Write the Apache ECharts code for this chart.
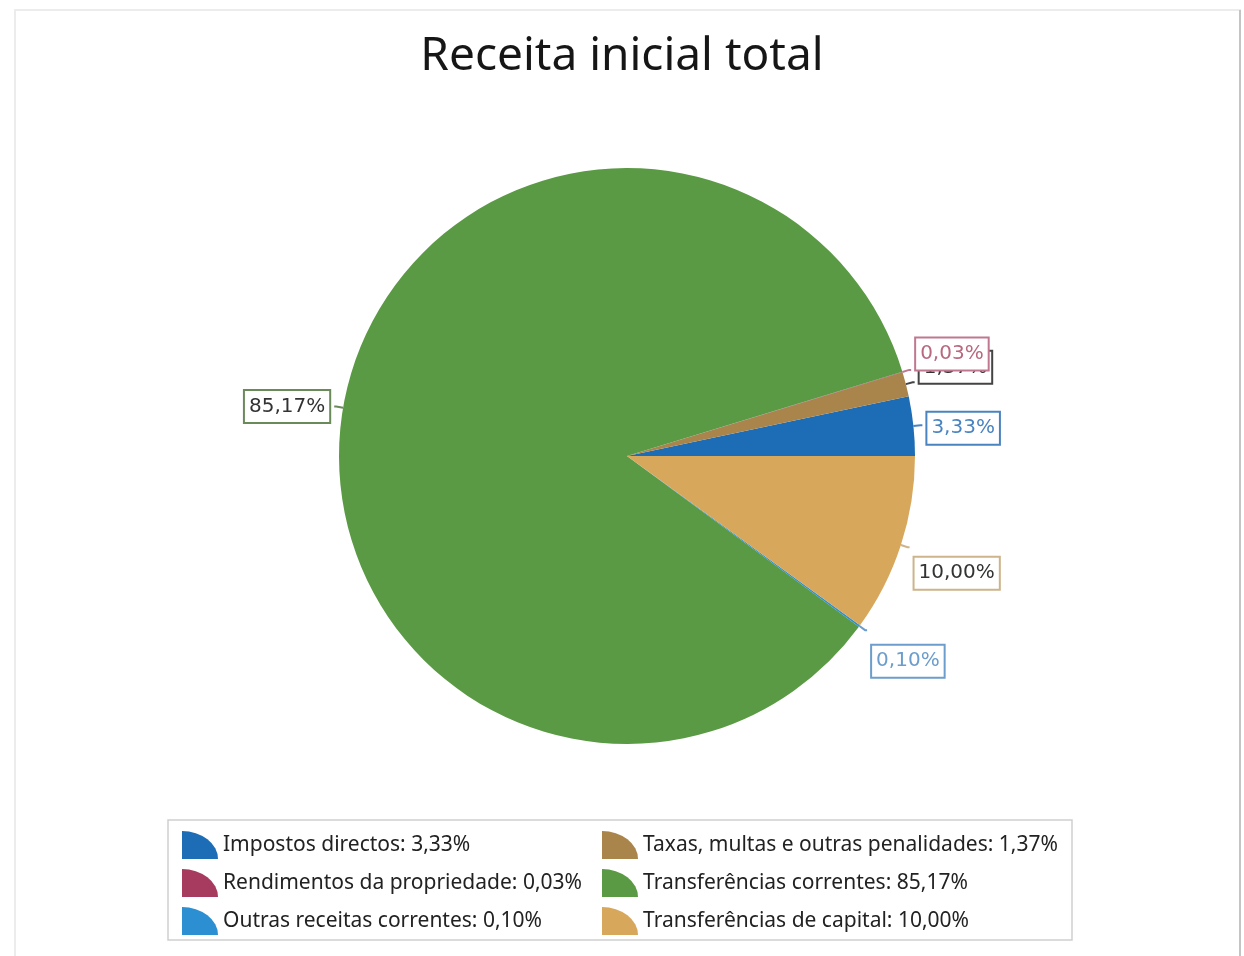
<!DOCTYPE html>
<html>
<head>
<meta charset="utf-8">
<title>Receita inicial total</title>
<script src="https://cdn.jsdelivr.net/npm/echarts@6/dist/echarts.min.js"></script>
<style>
*{ padding:0; margin:0; }
html,body{ width:100%; height:100%; background:#ffffff; }
#main{ width:1244px; height:956px; }
</style>
</head>
<body>
<div id="main"></div>
<script>
// dados (percentagens)
var names = [
    'Impostos directos',
    'Taxas, multas e outras penalidades',
    'Rendimentos da propriedade',
    'Transferências correntes',
    'Outras receitas correntes',
    'Transferências de capital'
];
var values = [3.33, 1.37, 0.03, 85.17, 0.10, 10.00];
var colors = ['#1d6cb6', '#a9844b', '#a63b5f', '#5b9a45', '#2b8fd2', '#d7a75c'];
var labelColors = ['#4a84c0', '#333333', '#b8687f', '#333333', '#6c9dcc', '#333333'];
var labelBorders = ['#4a84c0', '#444444', '#c07890', '#6a8a5a', '#6c9dcc', '#cdb48a'];
// deslocamento vertical das etiquetas (como no original)
var labelDy = [3, -15, -16, 0, 31, 26];
// legenda em duas colunas
var legendLeft = [names[0], names[2], names[4]];
var legendRight = [names[1], names[3], names[5]];

function fmt(v) {
    return v.toFixed(2).replace('.', ',') + '%';
}

var pieData = [];
for (var i = 0; i < names.length; i++) {
    pieData.push({
        name: names[i],
        value: values[i],
        itemStyle: { color: colors[i] },
        label: {
            color: labelColors[i],
            borderColor: labelBorders[i]
        },
        labelLine: { lineStyle: { color: labelBorders[i] } }
    });
}

var iconPath = 'path://M0,28 L0,0 A36,28 0 0 1 36,28 Z';
var legendText = {
    fontFamily: 'Noto Sans',
    fontSize: 21,
    color: '#222222'
};

var chart = echarts.init(document.getElementById('main'));
var option = {
    backgroundColor: '#ffffff',
    animation: false,
    title: {
        text: 'Receita inicial total',
        left: 'center',
        top: 29,
        textStyle: {
            fontFamily: 'Noto Sans',
            fontWeight: 'normal',
            fontSize: 46,
            color: '#161616'
        }
    },
    graphic: [{
        type: 'rect',
        shape: { x: 15, y: 10, width: 1225, height: 960 },
        style: { fill: 'none', stroke: '#ececec', lineWidth: 2 }
    }, {
        type: 'line',
        shape: { x1: 1240, y1: 10, x2: 1240, y2: 956 },
        style: { stroke: '#c4c4c4', lineWidth: 2 }
    }, {
        type: 'rect',
        shape: { x: 168, y: 820, width: 904, height: 120 },
        style: { fill: 'none', stroke: '#cfcfcf', lineWidth: 1.5 }
    }],
    legend: [{
        orient: 'vertical',
        left: 177,
        top: 826,
        itemGap: 10,
        itemWidth: 36,
        itemHeight: 28,
        icon: iconPath,
        data: legendLeft,
        textStyle: legendText,
        formatter: function (n) { return n + ': ' + fmt(values[names.indexOf(n)]); }
    }, {
        orient: 'vertical',
        left: 597,
        top: 826,
        itemGap: 10,
        itemWidth: 36,
        itemHeight: 28,
        icon: iconPath,
        data: legendRight,
        textStyle: legendText,
        formatter: function (n) { return n + ': ' + fmt(values[names.indexOf(n)]); }
    }],
    series: [{
        type: 'pie',
        center: [627, 456],
        radius: 288,
        startAngle: 0,
        clockwise: false,
        avoidLabelOverlap: false,
        data: pieData,
        label: {
            show: true,
            position: 'outside',
            formatter: function (p) { return fmt(p.value); },
            fontFamily: 'DejaVu Sans',
            fontSize: 20,
            backgroundColor: '#ffffff',
            borderWidth: 2,
            padding: [6, 4, 5, 4]
        },
        labelLine: {
            show: true,
            length: 7,
            length2: 2,
            lineStyle: { width: 2 }
        },
        labelLayout: function (p) {
            return { dy: labelDy[p.dataIndex], hideOverlap: false, moveOverlap: false };
        },
        emphasis: { disabled: true }
    }]
};
chart.setOption(option);
</script>
</body>
</html>
